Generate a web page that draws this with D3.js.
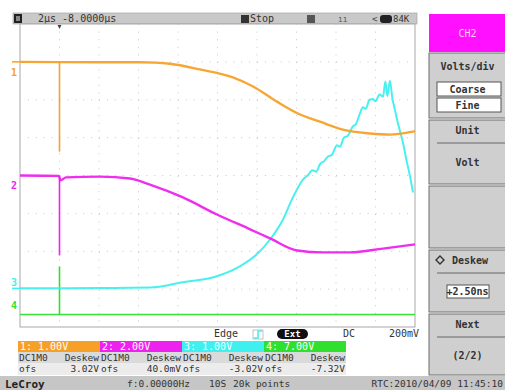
<!DOCTYPE html>
<html>
<head>
<meta charset="utf-8">
<script src="https://cdn.jsdelivr.net/npm/d3@7"></script>
<style>
  html, body { margin: 0; padding: 0; background: #fff; }
  svg { display: block; }
  text { font-family: "DejaVu Sans Mono", "Liberation Mono", monospace; }
</style>
</head>
<body>
<svg id="scope" width="505" height="390"></svg>
<script>
// Time base: 2 µs/div, 10 divisions; trigger at t = 0 (one division in)
const timeDomain = [-2, 18];
// Vertical: 8 divisions, each trace expressed in divisions from centre
const divDomain = [-4, 4];

// [time µs, divisions]
const ch1 = [[-2, 3.0], [2.05, 2.99], [4.08, 2.99], [4.84, 2.98],
  [5.59, 2.95], [7.11, 2.80], [8.78, 2.59], [9.80, 2.35], [11.01, 1.95], [12.18, 1.61], [13.19, 1.42],
  [14.35, 1.21], [15.72, 1.11], [16.73, 1.08], [17.9, 1.16], [18, 1.17]];

const ch2 = [[-2, 0.0], [-0.03, -0.01], [0.05, -0.13], [0.33, -0.05], [2.05, -0.03],
  [3.57, -0.08], [4.58, -0.24], [6.25, -0.58], [7.97, -1.03], [9.65, -1.42], [10.66, -1.66],
  [12.03, -1.98], [13.34, -2.03], [14.71, -2.03], [16.38, -1.93], [18, -1.82]];

const ch3 = [[-2, -2.98], [2, -2.97], [4.58, -2.96], [6.25, -2.82], [7.97, -2.66], [9.13, -2.40],
  [9.99, -2.08], [10.66, -1.69], [11.32, -1.16], [11.77, -0.63], [12.33, -0.11], [12.6, 0.02],
  [12.8, 0.14], [13.0, 0.10], [13.19, 0.30], [13.4, 0.38], [13.6, 0.50], [13.8, 0.55], [14.05, 0.80],
  [14.2, 0.76], [14.4, 1.00], [14.6, 1.05], [14.86, 1.30], [15.0, 1.35], [15.2, 1.62], [15.37, 1.80],
  [15.5, 1.76], [15.7, 2.00], [15.87, 2.02], [16.0, 1.96], [16.2, 2.14], [16.38, 2.08], [16.5, 2.48],
  [16.6, 2.10], [16.73, 2.50], [16.85, 2.05], [17.0, 1.70], [17.09, 1.48], [17.25, 1.15],
  [17.39, 0.87], [17.55, 0.45], [17.75, -0.03], [17.9, -0.45]];

const ch4 = [[-2, -3.67], [18, -3.67]];

// trigger glitch: [from level, to level] in divisions, per channel (none on CH3)
const glitches = [[3.0, 0.63], [-0.01, -2.11], null, [-3.67, -2.40]];

const traceColors = ["#f7a028", "#ee22ee", "#3ef0ee", "#2fe02f"];
const traceWidths = [2.4, 2.4, 2.0, 1.6];
const channelLabels = ["1: 1.00V", "2: 2.00V", "3: 1.00V", "4: 7.00V"];
const couplings = ["DC1M0", "DC1M0", "DC1M0", "DC1M0"];
const offsets = ["3.02V", "40.0mV", "-3.02V", "-7.32V"];

const svg = d3.select("#scope");
const plot = { left: 20, right: 415, top: 24, bottom: 327 };

const x = d3.scaleLinear().domain(timeDomain).range([plot.left, plot.right]);
const y = d3.scaleLinear().domain(divDomain).range([plot.bottom, plot.top]);

// ---------- top status bar ----------
const bar = svg.append("g");
bar.append("rect").attr("x", 13).attr("y", 13).attr("width", 404).attr("height", 11)
  .attr("fill", "#c9c9c9").attr("stroke", "#9a9a9a").attr("stroke-width", 0.6);
bar.append("rect").attr("x", 14).attr("y", 14).attr("width", 8).attr("height", 9).attr("fill", "#222");
bar.append("rect").attr("x", 16).attr("y", 16).attr("width", 4).attr("height", 5).attr("fill", "#888");
bar.append("text").attr("x", 38).attr("y", 22).attr("font-size", 10).attr("fill", "#333").text("2µs -8.0000µs");
bar.append("rect").attr("x", 241).attr("y", 15).attr("width", 8).attr("height", 8).attr("fill", "#333");
bar.append("text").attr("x", 250).attr("y", 22).attr("font-size", 10).attr("fill", "#333").text("Stop");
bar.append("rect").attr("x", 307).attr("y", 15).attr("width", 8).attr("height", 8).attr("fill", "#555");
bar.append("text").attr("x", 338).attr("y", 22).attr("font-size", 8).attr("fill", "#555").text("ıı");
bar.append("text").attr("x", 372).attr("y", 22).attr("font-size", 9).attr("fill", "#444").text("<");
bar.append("rect").attr("x", 380).attr("y", 15).attr("width", 12).attr("height", 8).attr("rx", 3).attr("fill", "#222");
bar.append("text").attr("x", 393).attr("y", 22).attr("font-size", 9).attr("fill", "#333").text("84K");

// ---------- graticule ----------
const grid = svg.append("g");
grid.append("rect").attr("x", plot.left).attr("y", plot.top)
  .attr("width", plot.right - plot.left).attr("height", plot.bottom - plot.top)
  .attr("fill", "#fff").attr("stroke", "#a8a8a8").attr("stroke-width", 1);
const xTicks = d3.range(timeDomain[0] + 2, timeDomain[1], 2);
const yTicks = d3.range(divDomain[0] + 1, divDomain[1], 1);
grid.selectAll("line.v").data(xTicks).join("line").attr("class", "v")
  .attr("x1", d => x(d)).attr("x2", d => x(d)).attr("y1", plot.top).attr("y2", plot.bottom)
  .attr("stroke", "#c8c8c8").attr("stroke-dasharray", "1,6.6");
grid.selectAll("line.h").data(yTicks).join("line").attr("class", "h")
  .attr("y1", d => y(d)).attr("y2", d => y(d)).attr("x1", plot.left).attr("x2", plot.right)
  .attr("stroke", "#c8c8c8").attr("stroke-dasharray", "1,6.9");

// trigger position marker
svg.append("path").attr("d", `M${x(0) - 2},25 L${x(0) + 2},25 L${x(0)},29 Z`).attr("fill", "#444");

// ---------- traces ----------
const line = d3.line().x(d => x(d[0])).y(d => y(d[1])).curve(d3.curveMonotoneX);
const traces = [ch1, ch2, ch3, ch4];
// draw green and cyan first so orange and magenta sit on top
[3, 2, 1, 0].forEach(i => {
  svg.append("path").datum(traces[i]).attr("d", line)
    .attr("fill", "none").attr("stroke", traceColors[i]).attr("stroke-width", traceWidths[i])
    .attr("stroke-linejoin", "round").attr("opacity", 0.95);
  const g = glitches[i];
  if (g) {
    svg.append("line").attr("x1", x(0)).attr("x2", x(0)).attr("y1", y(g[0])).attr("y2", y(g[1]))
      .attr("stroke", traceColors[i]).attr("stroke-width", 1.6);
  }
});

// ground markers at the left edge
const markerLevels = [2.74, -0.24, -2.80, -3.42];
markerLevels.forEach((lv, i) => {
  svg.append("text").attr("x", 11).attr("y", y(lv) + 4).attr("font-size", 10).attr("font-weight", "bold")
    .attr("fill", traceColors[i]).text(String(i + 1));
});
[ch1[0][1], ch3[0][1]].forEach((lv, k) => {
  svg.append("line").attr("x1", 12).attr("x2", plot.left).attr("y1", y(lv)).attr("y2", y(lv))
    .attr("stroke", traceColors[k * 2]).attr("stroke-width", 1.5);
});

// ---------- trigger info ----------
const trig = svg.append("g");
trig.append("text").attr("x", 214).attr("y", 337).attr("font-size", 10).attr("fill", "#333").text("Edge");
trig.append("rect").attr("x", 253).attr("y", 330).attr("width", 10).attr("height", 9)
  .attr("fill", "#fff").attr("stroke", "#999").attr("stroke-width", 0.6);
trig.append("path").attr("d", "M254,338 L258,338 L258,331 L262,331").attr("fill", "none")
  .attr("stroke", "#3ef0ee").attr("stroke-width", 1.5);
trig.append("rect").attr("x", 277).attr("y", 329).attr("width", 31).attr("height", 10).attr("rx", 5).attr("fill", "#111");
trig.append("text").attr("x", 292.5).attr("y", 337).attr("font-size", 9).attr("font-weight", "bold")
  .attr("text-anchor", "middle").attr("fill", "#fff").text("Ext");
trig.append("text").attr("x", 343).attr("y", 337).attr("font-size", 10).attr("fill", "#333").text("DC");
trig.append("text").attr("x", 419).attr("y", 337).attr("font-size", 10).attr("text-anchor", "end").attr("fill", "#333").text("200mV");

// ---------- channel descriptors ----------
const chW = 82;
const chG = svg.append("g");
channelLabels.forEach((lab, i) => {
  const x0 = 18 + i * chW;
  chG.append("rect").attr("x", x0).attr("y", 341).attr("width", chW).attr("height", 11).attr("fill", traceColors[i]);
  chG.append("text").attr("x", x0 + 2).attr("y", 350).attr("font-size", 10).attr("fill", "#fff").text(lab);
  chG.append("rect").attr("x", x0).attr("y", 352).attr("width", chW).attr("height", 11).attr("fill", "#dadada");
  chG.append("rect").attr("x", x0).attr("y", 363).attr("width", chW).attr("height", 12).attr("fill", "#ececec");
  chG.append("text").attr("x", x0 + 1).attr("y", 361).attr("font-size", 9.5).attr("fill", "#333").text(couplings[i]);
  chG.append("text").attr("x", x0 + chW - 1).attr("y", 361).attr("font-size", 9.5).attr("text-anchor", "end").attr("fill", "#333").text("Deskew");
  chG.append("text").attr("x", x0 + 1).attr("y", 372).attr("font-size", 9.5).attr("fill", "#333").text("ofs");
  chG.append("text").attr("x", x0 + chW - 1).attr("y", 372).attr("font-size", 9.5).attr("text-anchor", "end").attr("fill", "#333").text(offsets[i]);
});

// ---------- bottom status bar ----------
const foot = svg.append("g");
foot.append("rect").attr("x", 0).attr("y", 376).attr("width", 505).attr("height", 14).attr("fill", "#c6c6c6");
foot.append("text").attr("x", 5).attr("y", 388).attr("font-family", "DejaVu Sans, sans-serif").attr("font-size", 11)
  .attr("font-weight", "bold").attr("fill", "#222").text("LeCroy");
foot.append("text").attr("x", 127).attr("y", 387).attr("font-size", 9.5).attr("fill", "#333").text("f:0.00000Hz");
foot.append("text").attr("x", 209).attr("y", 387).attr("font-size", 9.5).attr("fill", "#333").text("10S");
foot.append("text").attr("x", 233).attr("y", 387).attr("font-size", 9.5).attr("fill", "#333").text("20k points");
foot.append("text").attr("x", 503).attr("y", 387).attr("font-size", 9.5).attr("text-anchor", "end").attr("fill", "#333").text("RTC:2010/04/09 11:45:10");

// ---------- right-hand soft menu ----------
const menu = svg.append("g");
const mx = 429, mw = 77;
menu.append("rect").attr("x", mx).attr("y", 14).attr("width", mw).attr("height", 38).attr("fill", "#ff10ff");
menu.append("text").attr("x", mx + mw / 2).attr("y", 37).attr("font-size", 10).attr("text-anchor", "middle").attr("fill", "#ffd0ff").text("CH2");
const boxes = [[53, 118], [120, 184], [186, 248], [250, 312], [314, 375]];
boxes.forEach(([a, b]) => {
  menu.append("rect").attr("x", mx).attr("y", a).attr("width", mw).attr("height", b - a)
    .attr("fill", "#cfcfcf").attr("stroke", "#6e6e6e").attr("stroke-width", 1);
});
const mText = (t, yy, opts = {}) => menu.append("text").attr("x", opts.x ?? (mx + mw / 2)).attr("y", yy)
  .attr("font-size", 10).attr("font-weight", "bold").attr("text-anchor", opts.anchor ?? "middle").attr("fill", "#333").text(t);
mText("Volts/div", 70);
menu.append("rect").attr("x", 437).attr("y", 82).attr("width", 64).attr("height", 14).attr("fill", "#fff").attr("stroke", "#555");
menu.append("rect").attr("x", 437).attr("y", 98).attr("width", 64).attr("height", 14).attr("fill", "#fff").attr("stroke", "#555");
mText("Coarse", 93);
mText("Fine", 109);
mText("Unit", 134);
menu.append("line").attr("x1", mx + 8).attr("x2", mx + mw).attr("y1", 143).attr("y2", 143).attr("stroke", "#666");
mText("Volt", 166);
menu.append("path").attr("d", "M440,256 L444,260 L440,264 L436,260 Z").attr("fill", "none").attr("stroke", "#333").attr("stroke-width", 1.4);
mText("Deskew", 264, { x: 452, anchor: "start" });
menu.append("line").attr("x1", mx + 8).attr("x2", mx + mw).attr("y1", 273).attr("y2", 273).attr("stroke", "#666");
menu.append("rect").attr("x", 447).attr("y", 285).attr("width", 42).attr("height", 13).attr("fill", "#fff").attr("stroke", "#555");
mText("+2.50ns", 295);
mText("Next", 328);
menu.append("line").attr("x1", mx + 8).attr("x2", mx + mw).attr("y1", 337).attr("y2", 337).attr("stroke", "#666");
mText("(2/2)", 359);
</script>
</body>
</html>
